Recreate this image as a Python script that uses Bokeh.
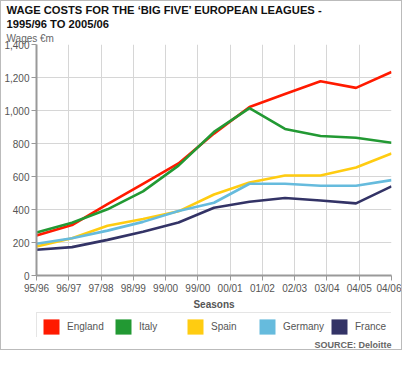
from bokeh.plotting import figure
from bokeh.layouts import column
from bokeh.models import (Title, Legend, LegendItem, FixedTicker,
                          NumeralTickFormatter, Range1d)
from bokeh.embed import file_html
from bokeh.resources import INLINE

# ---- data (EUR m) ----
seasons = ["95/96", "96/97", "97/98", "98/99", "99/00", "00/01",
           "01/02", "02/03", "03/04", "04/05", "05/06"]
tick_labels = ["95/96", "96/97", "97/98", "98/99", "99/00", "99/00",
               "00/01", "01/02", "02/03", "03/04", "04/05", "04/06"]
y_ticks = [0, 200, 400, 600, 800, 1000, 1200, 1400]

england = [242, 306, 432, 556, 679, 860, 1021, 1100, 1177, 1137, 1233]
italy = [261, 320, 401, 510, 666, 870, 1014, 888, 845, 835, 805]
spain = [176, 226, 301, 343, 389, 491, 564, 606, 606, 655, 739]
germany = [192, 226, 272, 325, 391, 441, 556, 556, 544, 544, 578]
france = [156, 172, 216, 265, 321, 411, 447, 470, 455, 437, 540]

names = ["England", "Italy", "Spain", "Germany", "France"]
series = [england, italy, spain, germany, france]
colors = ["#ff1a00", "#229933", "#ffcc11", "#66bbdd", "#333366"]

FONT = "Liberation Sans"
NAN = float("nan")
n = len(seasons)
x = list(range(n))
ticks = [k * (n - 1) / (len(tick_labels) - 1) for k in range(len(tick_labels))]

p = figure(width=400, height=311, x_range=Range1d(0, n - 1),
           y_range=Range1d(0, 1400), output_backend="svg",
           toolbar_location=None, title=None,
           min_border_left=0, min_border_right=10,
           min_border_top=0, min_border_bottom=0)
p.outline_line_color = None
p.border_fill_color = "white"

# titles (later added = further from the plot)
p.add_layout(Title(text="Wages €m", align="left", offset=-30, standoff=2,
                   text_font=FONT, text_font_size="10px",
                   text_font_style="normal", text_color="#666666"), "above")
p.add_layout(Title(text="1995/96 TO 2005/06", align="left", offset=-30,
                   standoff=0, text_font=FONT, text_font_size="11.2px",
                   text_font_style="bold", text_color="#111111"), "above")
p.add_layout(Title(text="WAGE COSTS FOR THE ‘BIG FIVE’ EUROPEAN LEAGUES -",
                   align="left", offset=-30, standoff=0, text_font=FONT,
                   text_font_size="11.2px", text_font_style="bold",
                   text_color="#111111"), "above")

# axes
p.xaxis.ticker = FixedTicker(ticks=ticks)
p.xaxis.major_label_overrides = {t: lab for t, lab in zip(ticks, tick_labels)}
p.yaxis.ticker = FixedTicker(ticks=y_ticks)
p.yaxis.formatter = NumeralTickFormatter(format="0,0")
for ax in (p.xaxis, p.yaxis):
    ax.axis_line_color = "#999999"
    ax.axis_line_width = 2
    ax.major_tick_line_color = "#999999"
    ax.major_tick_line_width = 1
    ax.major_tick_out = 5
    ax.major_tick_in = 0
    ax.minor_tick_line_color = None
    ax.major_label_text_font = FONT
    ax.major_label_text_font_size = "10px"
    ax.major_label_text_color = "#555555"
    ax.major_label_standoff = 2
p.xaxis.axis_label = "Seasons"
p.xaxis.axis_label_text_font = FONT
p.xaxis.axis_label_text_font_size = "10px"
p.xaxis.axis_label_text_font_style = "bold"
p.xaxis.axis_label_text_color = "#555555"
p.xaxis.axis_label_standoff = 2

p.xgrid.ticker = FixedTicker(ticks=ticks)
p.ygrid.ticker = FixedTicker(ticks=y_ticks[:-1])
p.xgrid.grid_line_color = "#d6d6d6"
p.ygrid.grid_line_color = "#d6d6d6"

for vals, col in zip(series, colors):
    p.line(x, vals, line_color=col, line_width=2.6)

# bottom strip: legend with square swatches + source note
q = figure(width=400, height=37, x_range=Range1d(0, 1), y_range=Range1d(0, 1),
           output_backend="svg", toolbar_location=None, title=None,
           min_border_left=24, min_border_right=3, min_border_top=0,
           min_border_bottom=0)
q.axis.visible = False
q.grid.visible = False
q.outline_line_color = None
q.border_fill_color = "white"
items = []
for name, col in zip(names, colors):
    # swatch-only renderers (NaN geometry: nothing drawn in the frame)
    r = q.quad(left=[NAN], right=[NAN], top=[NAN], bottom=[NAN],
               fill_color=col, line_color=None)
    items.append(LegendItem(label=name, renderers=[r]))
legend = Legend(items=items, orientation="horizontal", location="top_left",
                glyph_width=20, glyph_height=19, label_width=46,
                label_standoff=6, spacing=0, padding=4, margin=0,
                border_line_color="#cccccc", border_line_width=1,
                label_text_font=FONT, label_text_font_size="10px",
                label_text_color="#555555")
q.add_layout(legend, "center")
q.add_layout(Title(text="SOURCE: Deloitte", align="right", offset=0,
                   standoff=0, text_font=FONT, text_font_size="9px",
                   text_font_style="bold", text_color="#666666"), "below")

layout = column(p, q, spacing=0, styles={"border": "1px solid #bbbbbb"})
open("out.html", "w").write(file_html(layout, INLINE))
